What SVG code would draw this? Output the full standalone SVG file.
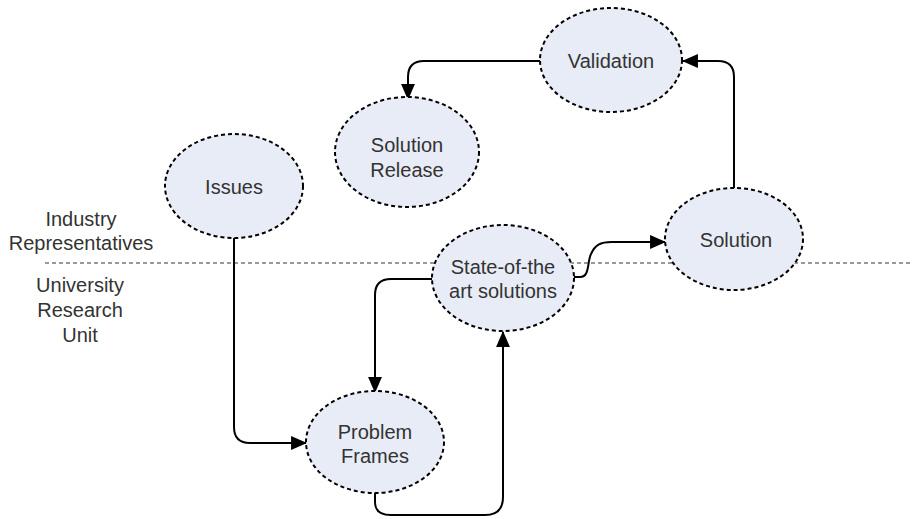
<svg xmlns="http://www.w3.org/2000/svg" width="912" height="519" viewBox="0 0 912 519">
<defs>
<marker id="arr" viewBox="0 0 15 13" refX="14" refY="6.5" markerWidth="8" markerHeight="7" markerUnits="strokeWidth" orient="auto">
<path d="M0,0 L15,6.5 L0,13 z" fill="#000"/>
</marker>
<style>
.node ellipse{fill:#e8ecf6;stroke:#000;stroke-width:2;stroke-dasharray:4 3}
text{font-family:"Liberation Sans",Arial,sans-serif;font-size:20px;fill:#333;text-anchor:middle}
.conn path{fill:none;stroke:#000;stroke-width:2}
.sep{stroke:#333;stroke-width:1;stroke-dasharray:4 3;fill:none}
</style>
</defs>
<rect width="912" height="519" fill="#fff"/>
<path class="sep" d="M45,263 H912"/>
<g id="lane-labels">
<text x="81" y="226">Industry</text>
<text x="81" y="250">Representatives</text>
<text x="80" y="292">University</text>
<text x="80" y="317">Research</text>
<text x="80" y="342">Unit</text>
</g>
<g class="conn" id="connectors">
<path d="M540,61 H424 Q408,61 408,77 V99" marker-end="url(#arr)"/>
<path d="M734,188 V77 Q734,61 718,61 H683" marker-end="url(#arr)"/>
<path d="M234,238 V427 Q234,443 250,443 H306" marker-end="url(#arr)"/>
<path d="M432,279 H391 Q375,279 375,295 V392" marker-end="url(#arr)"/>
<path d="M375,493 V502 Q375,515 391,515 H485 Q503,515 503,497 V332" marker-end="url(#arr)"/>
<path d="M568,277 H580 C590,277 587,262 591,254 C595,245 600,242 612,242 H665" marker-end="url(#arr)"/>
</g>
<g class="node" id="validation">
<ellipse cx="611" cy="60" rx="71" ry="52"/>
<text x="611" y="68">Validation</text>
</g>
<g class="node" id="solution-release">
<ellipse cx="407" cy="152" rx="72" ry="55"/>
<text x="407" y="152">Solution</text>
<text x="407" y="177">Release</text>
</g>
<g class="node" id="issues">
<ellipse cx="234" cy="186" rx="69" ry="52"/>
<text x="234" y="194">Issues</text>
</g>
<g class="node" id="solution">
<ellipse cx="734" cy="239" rx="69" ry="51"/>
<text x="736" y="247">Solution</text>
</g>
<g class="node" id="state-of-the-art">
<ellipse cx="503" cy="278" rx="71" ry="53"/>
<text x="503" y="274">State-of-the</text>
<text x="503" y="298">art solutions</text>
</g>
<g class="node" id="problem-frames">
<ellipse cx="375" cy="442" rx="69" ry="51"/>
<text x="375" y="439">Problem</text>
<text x="375" y="463">Frames</text>
</g>
</svg>
